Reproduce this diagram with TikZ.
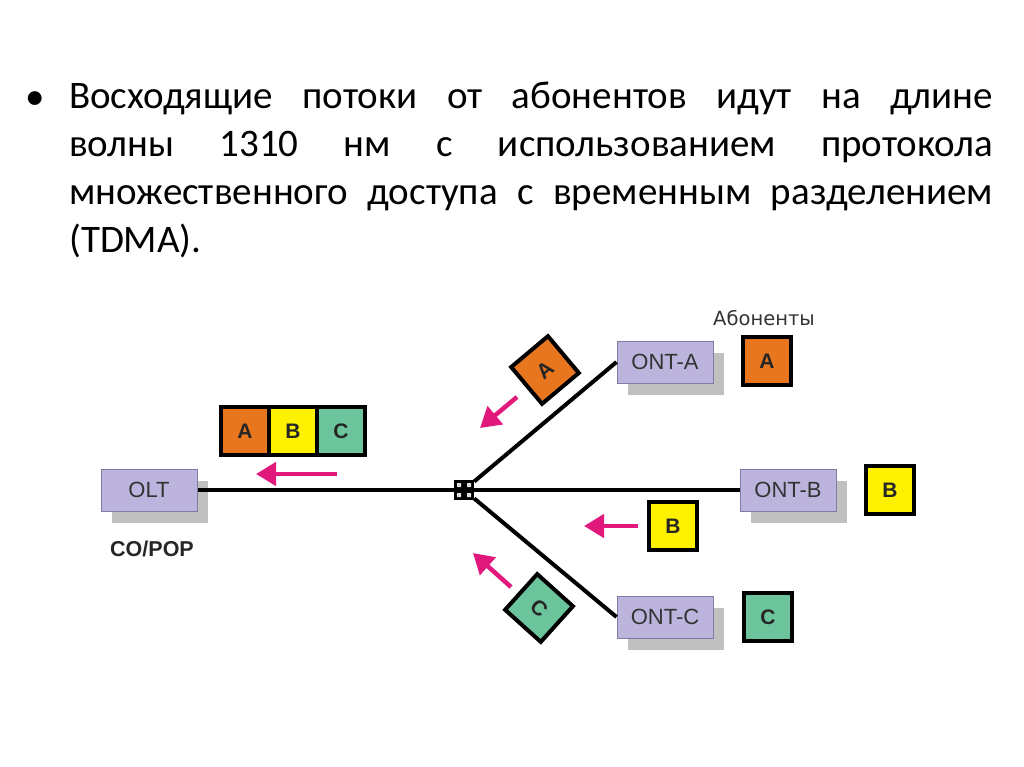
\documentclass[tikz,border=0pt]{standalone}
\usepackage{fontspec}
\setmainfont{Carlito}
\newfontfamily\diagfont{Liberation Sans}
\newfontfamily\abonfont{DejaVu Sans}
\usetikzlibrary{positioning,shadows,arrows.meta}
\definecolor{ontfill}{RGB}{188,180,220}
\definecolor{ontdraw}{RGB}{128,122,165}
\definecolor{ontshadow}{RGB}{192,192,192}
\definecolor{pktA}{RGB}{232,118,30}
\definecolor{pktB}{RGB}{255,242,0}
\definecolor{pktC}{RGB}{108,196,156}
\definecolor{flowpink}{RGB}{225,25,125}
\begin{document}
\begin{tikzpicture}[x=1pt,y=-1pt,
  ont/.style={draw=ontdraw, fill=ontfill, line width=1pt, minimum width=96pt, minimum height=42pt,
    font=\diagfont\fontsize{22}{26}\selectfont, text=black!80,
    general shadow={fill=ontshadow, shadow xshift=11pt, shadow yshift=-12pt}},
  pkt/.style={draw=black, line width=4pt, minimum size=48pt, inner sep=0pt, outer sep=0pt,
    font=\diagfont\bfseries\fontsize{21}{25}\selectfont, text=black!85},
  fibre/.style={line width=4pt},
  flow/.style={draw=flowpink, line width=4.5pt, -{Triangle[length=20pt,width=23pt]}}]
\useasboundingbox (0,0) rectangle (1024,767);

% heading
\node[anchor=base, font=\fontsize{39}{48}\selectfont] (dot) at (35,110) {•};
\node[anchor=north west, inner sep=0pt, text width=924pt, align=justify,
  font=\fontsize{39}{48}\selectfont] (txt) at (69,82)
  {\hyphenpenalty=10000
   Восходящие потоки от абонентов идут на длине\linebreak
   волны 1310 нм с использованием протокола\linebreak
   множественного доступа с временным разделением\linebreak
   (TDMA).};

% central office side
\node[ont] (olt) at (149,490) {OLT};
\node[font=\diagfont\bfseries\fontsize{21.5}{25}\selectfont, text=black!85] (pop) at (152,549) {CO/POP};
\node[fill=black, minimum size=20pt, inner sep=0pt] (split) at (464,490) {};
\fill[white!75!gray] (457,483) rectangle (461,487) (467,483) rectangle (471,487)
  (457,493) rectangle (461,497) (467,493) rectangle (471,497);

% subscribers
\node[ont] (ontA) at (665,362) {ONT-A};
\node[ont] (ontB) at (788,490) {ONT-B};
\node[ont] (ontC) at (665,617) {ONT-C};
\node[pkt, fill=pktA] (subA) at (767,361) {A};
\node[pkt, fill=pktB] (subB) at (890,490) {B};
\node[pkt, fill=pktC] (subC) at (768,617) {C};
\node[font=\abonfont\fontsize{19.5}{23}\selectfont, text=black!80] (abon) at (764,318) {Абоненты};

% fibres
\draw[fibre] (olt.east) -- (split);
\draw[fibre] (split) -- (ontA.west);
\draw[fibre] (split) -- (ontB.west);
\draw[fibre] (split) -- (ontC.west);

% upstream packets
\node[pkt, fill=pktA, rotate=40] (upA) at (545,370) {A};
\node[pkt, fill=pktB] (upB) at (673,526) {B};
\node[pkt, fill=pktC, rotate=-42] (upC) at (539,608) {C};
\node[pkt, fill=pktA] (rowA) at (245,431) {A};
\node[pkt, fill=pktB, right=0pt of rowA] (rowB) {B};
\node[pkt, fill=pktC, right=0pt of rowB] (rowC) {C};

% flow arrows
\coordinate (fA1) at (517,397);
\coordinate (fA2) at (480,428);
\coordinate (fB1) at (638,526);
\coordinate (fB2) at (584,526);
\coordinate (fC1) at (511,587);
\coordinate (fC2) at (473,553);
\coordinate (fO1) at (337,474);
\coordinate (fO2) at (256,474);
\draw[flow] (fA1) -- (fA2);
\draw[flow] (fB1) -- (fB2);
\draw[flow] (fC1) -- (fC2);
\draw[flow] (fO1) -- (fO2);
\end{tikzpicture}
\end{document}
